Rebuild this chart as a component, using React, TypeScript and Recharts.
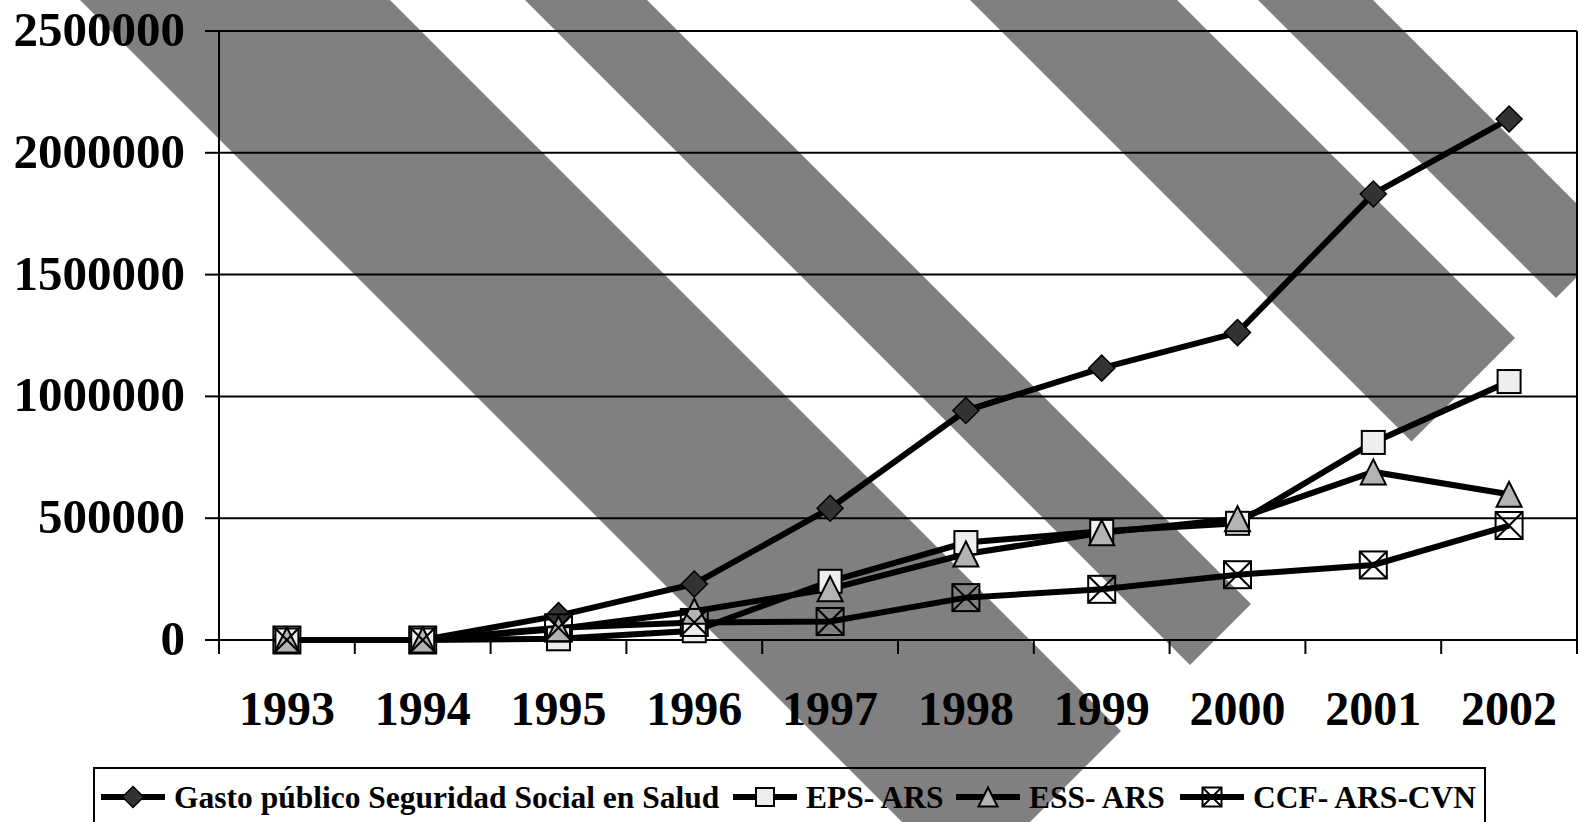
import React from 'react';
import { LineChart, Line, XAxis, YAxis, CartesianGrid, Legend } from 'recharts';

// ---------- data ----------
const years = ['1993', '1994', '1995', '1996', '1997', '1998', '1999', '2000', '2001', '2002'];
const gastoPublico = [0, 0, 100000, 230000, 541000, 942000, 1116000, 1262000, 1831000, 2139000];
const epsArs = [0, 0, 5000, 38000, 241000, 400000, 446000, 479000, 811000, 1061000];
const essArs = [0, 0, 45000, 118000, 210000, 353000, 440000, 498000, 690000, 598000];
const ccfArs = [0, 0, 50000, 72000, 76000, 174000, 208000, 268000, 308000, 470000];
const seriesNames = ['Gasto público Seguridad Social en Salud', 'EPS- ARS', 'ESS- ARS', 'CCF- ARS-CVN'];
const yTicks = [0, 500000, 1000000, 1500000, 2000000, 2500000];

const data = years.map((year, i) => ({
  year,
  gasto: gastoPublico[i],
  eps: epsArs[i],
  ess: essArs[i],
  ccf: ccfArs[i],
}));

// ---------- styles ----------
const FONT = "'Liberation Serif', 'Times New Roman', serif";
const W = 1578;
const H = 822;
const STRIPE = '#808080';
const LINE_W = 6;

// decorative diagonal background bands: [left edge (x-y), right edge (x-y), y of right cap corner]
const bands: [number, number, number][] = [
  [80, 390, 731],
  [525, 647, 604],
  [970, 1177, 338],
  [1258, 1373, 240.5],
];

const bandPoints = (L: number, R: number, yc: number) => {
  const t = (R - L) / 2;
  const top = -120;
  return `${L + top},${top} ${R + top},${top} ${R + yc},${yc} ${R + yc - t},${yc + t}`;
};

// ---------- marker shapes ----------
type ShapeProps = { cx: number; cy: number; size: number };

const Diamond = ({ cx, cy, size }: ShapeProps) => {
  const h = size / 2;
  return (
    <polygon
      points={`${cx},${cy - h} ${cx + h},${cy} ${cx},${cy + h} ${cx - h},${cy}`}
      fill="#333333"
      stroke="#000"
      strokeWidth={1.5}
    />
  );
};

const Square = ({ cx, cy, size }: ShapeProps) => {
  const h = size / 2;
  return <rect x={cx - h} y={cy - h} width={size} height={size} fill="#eeeeee" stroke="#000" strokeWidth={2} />;
};

const Triangle = ({ cx, cy, size }: ShapeProps) => {
  const h = size / 2;
  return (
    <polygon
      points={`${cx},${cy - h} ${cx + h},${cy + h} ${cx - h},${cy + h}`}
      fill="#b3b3b3"
      stroke="#000"
      strokeWidth={2}
    />
  );
};

const CrossSquare = ({ cx, cy, size }: ShapeProps) => {
  const h = size / 2;
  return (
    <g>
      <rect x={cx - h} y={cy - h} width={size} height={size} fill="none" stroke="#000" strokeWidth={2} />
      <line x1={cx - h} y1={cy - h} x2={cx + h} y2={cy + h} stroke="#000" strokeWidth={2} />
      <line x1={cx + h} y1={cy - h} x2={cx - h} y2={cy + h} stroke="#000" strokeWidth={2} />
    </g>
  );
};

const makeDot = (Shape: (p: ShapeProps) => React.ReactElement, size: number, prefix: string) => (props: any) => {
  const { cx, cy, index } = props;
  if (cx == null || cy == null) return <g key={`${prefix}-${index}`} />;
  return (
    <g key={`${prefix}-${index}`}>
      <Shape cx={cx} cy={cy} size={size} />
    </g>
  );
};

// ---------- ticks ----------
const YTick = (props: any) => {
  const { x, y, payload } = props;
  return (
    <text x={x} y={y + 15} textAnchor="end" fontSize={49} fontWeight="bold" fontFamily={FONT} fill="#000">
      {payload.value}
    </text>
  );
};

const XTick = (props: any) => {
  const { x, y, payload } = props;
  const half = payload && payload.offset != null ? payload.offset : 0;
  const isLast = payload.value === years[years.length - 1];
  return (
    <g>
      <line x1={x - half} x2={x - half} y1={y} y2={y + 14} stroke="#000" strokeWidth={2} />
      {isLast && <line x1={x + half} x2={x + half} y1={y} y2={y + 14} stroke="#000" strokeWidth={2} />}
      <text x={x} y={y + 85} textAnchor="middle" fontSize={48} fontWeight="bold" fontFamily={FONT} fill="#000">
        {payload.value}
      </text>
    </g>
  );
};

// ---------- legend ----------
const legendShapes = [Diamond, Square, Triangle, CrossSquare];
const legendSizes = [21, 18, 19, 19];
const legendX = [101, 733, 956, 1180];

const renderLegend = () => (
  <svg
    width={W}
    height={H}
    style={{ position: 'absolute', left: 0, top: 0, overflow: 'visible', pointerEvents: 'none' }}
  >
    <rect x={94} y={768} width={1391} height={70} fill="none" stroke="#000" strokeWidth={2} />
    {seriesNames.map((name, i) => {
      const x0 = legendX[i];
      const Shape = legendShapes[i];
      const ly = 797;
      return (
        <g key={name}>
          <line x1={x0} x2={x0 + 64} y1={ly} y2={ly} stroke="#000" strokeWidth={6} />
          <Shape cx={x0 + 32} cy={ly} size={legendSizes[i]} />
          <text x={x0 + 73} y={808} fontSize={31.5} fontWeight="bold" fontFamily={FONT} fill="#000">
            {name}
          </text>
        </g>
      );
    })}
  </svg>
);

export default function App() {
  return (
    <div style={{ position: 'absolute', left: 0, top: 0, width: W, height: H, overflow: 'hidden', background: '#fff' }}>
      <svg width={W} height={H} style={{ position: 'absolute', left: 0, top: 0 }}>
        {bands.map(([L, R, yc], i) => (
          <polygon key={i} points={bandPoints(L, R, yc)} fill={STRIPE} />
        ))}
      </svg>
      <div style={{ position: 'absolute', left: 0, top: 0 }}>
        <LineChart width={W} height={H} data={data} margin={{ top: 31, right: 0, bottom: 0, left: 0 }}>
          <CartesianGrid horizontal vertical={false} stroke="#000" strokeWidth={2} strokeDasharray="" />
          <XAxis
            dataKey="year"
            type="category"
            scale="band"
            height={182}
            interval={0}
            tickSize={0}
            tickMargin={0}
            tickLine={false}
            axisLine={{ stroke: '#000', strokeWidth: 2 }}
            tick={<XTick />}
          />
          <YAxis
            type="number"
            domain={[0, 2500000]}
            ticks={yTicks}
            interval={0}
            width={219}
            tickSize={14}
            tickMargin={20}
            axisLine={{ stroke: '#000', strokeWidth: 2 }}
            tickLine={{ stroke: '#000', strokeWidth: 2 }}
            tick={<YTick />}
          />
          <YAxis
            yAxisId="right"
            orientation="right"
            type="number"
            domain={[0, 2500000]}
            width={1}
            tick={false}
            tickLine={false}
            axisLine={{ stroke: '#000', strokeWidth: 2 }}
          />
          <Legend
            verticalAlign="bottom"
            content={renderLegend}
            wrapperStyle={{ left: 0, top: 0, bottom: 'auto', width: 0, height: 0, overflow: 'visible' }}
          />
          <Line
            dataKey="gasto"
            name={seriesNames[0]}
            stroke="#000"
            strokeWidth={LINE_W}
            dot={makeDot(Diamond, 26, 'g')}
            activeDot={false}
            isAnimationActive={false}
          />
          <Line
            dataKey="eps"
            name={seriesNames[1]}
            stroke="#000"
            strokeWidth={LINE_W}
            dot={makeDot(Square, 23, 'e')}
            activeDot={false}
            isAnimationActive={false}
          />
          <Line
            dataKey="ess"
            name={seriesNames[2]}
            stroke="#000"
            strokeWidth={LINE_W}
            dot={makeDot(Triangle, 25, 's')}
            activeDot={false}
            isAnimationActive={false}
          />
          <Line
            dataKey="ccf"
            name={seriesNames[3]}
            stroke="#000"
            strokeWidth={LINE_W}
            dot={makeDot(CrossSquare, 27, 'c')}
            activeDot={false}
            isAnimationActive={false}
          />
        </LineChart>
      </div>
    </div>
  );
}
